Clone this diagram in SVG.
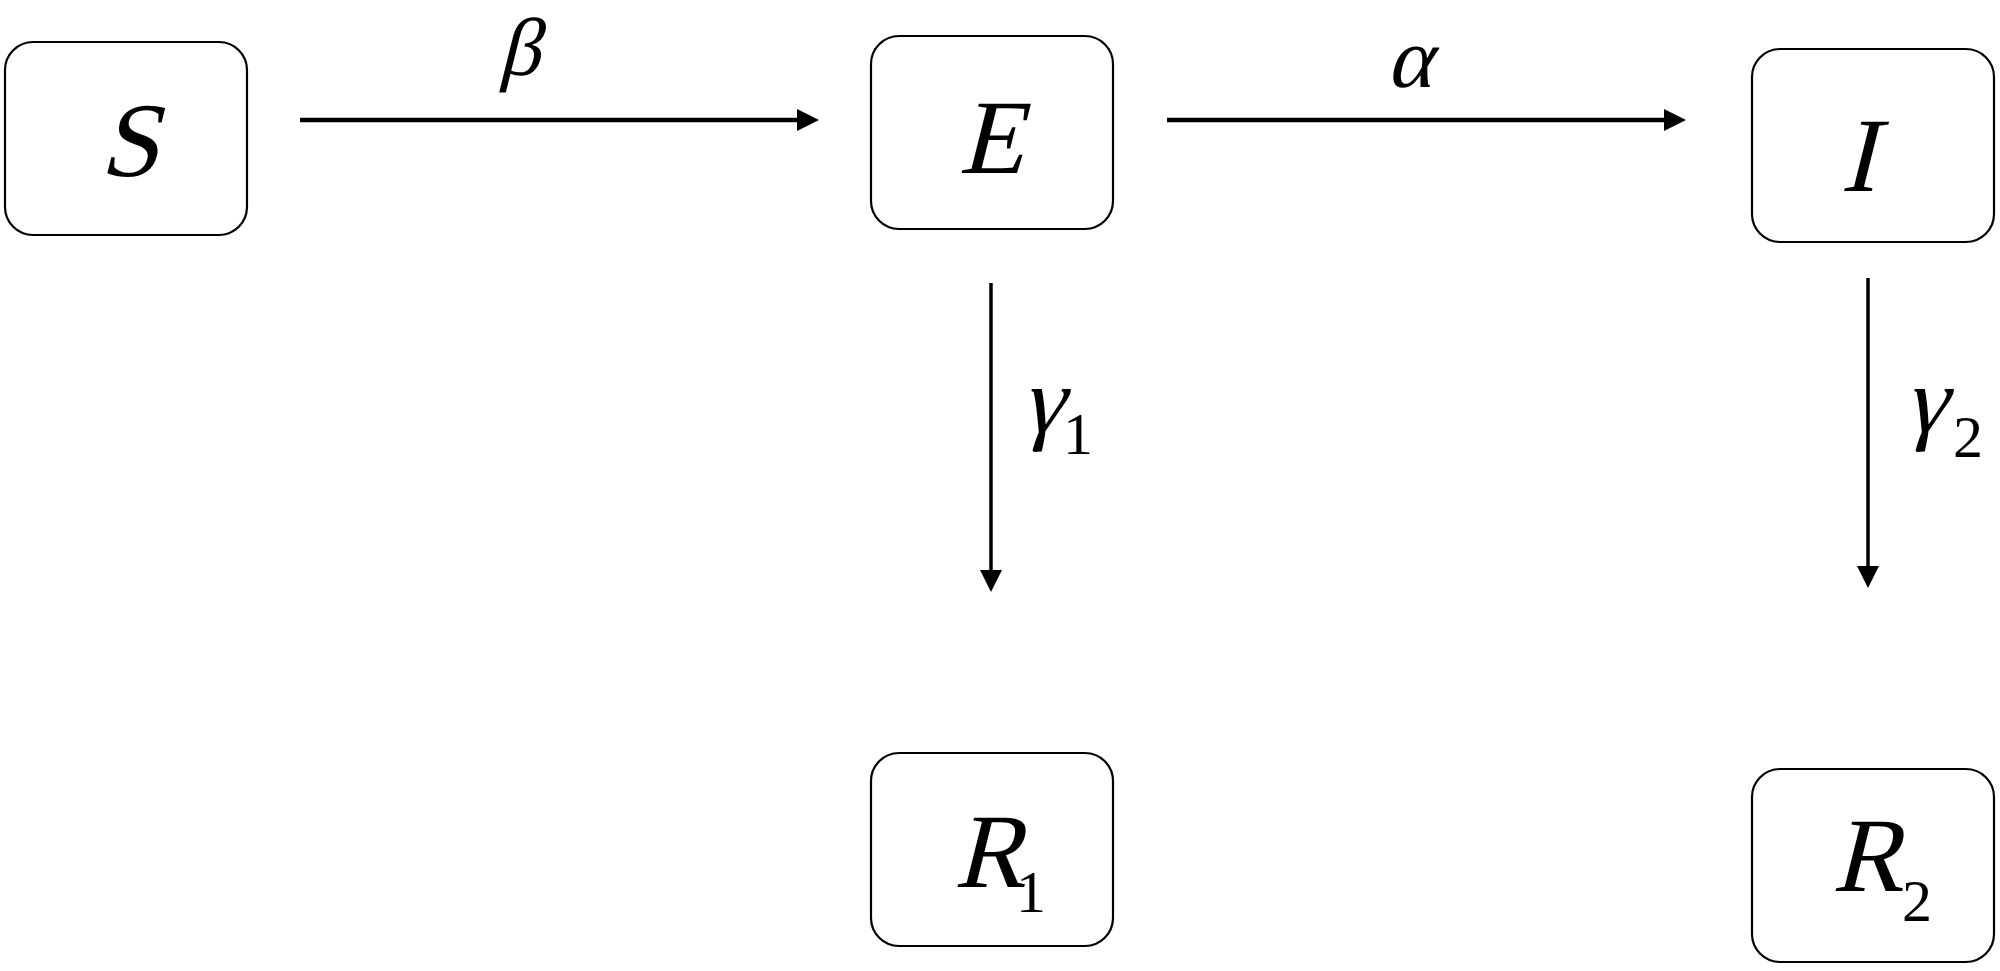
<svg xmlns="http://www.w3.org/2000/svg" width="2000" height="971" viewBox="0 0 2000 971">
<style>
.box{fill:#fff;stroke:#000;stroke-width:2.2}
.lbl{font-family:"Liberation Serif","Times New Roman",serif;font-style:normal;fill:#000;text-anchor:middle}
.big{font-size:106px}
.sub{font-family:"Liberation Serif","Times New Roman",serif;font-style:normal;fill:#000;font-size:60px}
.h{stroke:#000;stroke-width:4.5;fill:none}
.v{stroke:#000;stroke-width:3.5;fill:none}
</style>
<defs>
<marker id="ah" markerUnits="userSpaceOnUse" markerWidth="22" markerHeight="22" refX="0" refY="11" orient="auto" viewBox="0 0 22 22">
<path d="M0,0 L22,11 L0,22 z" fill="#000"/>
</marker>
</defs>
<rect width="2000" height="971" fill="#fff"/>
<g id="connectors">
<line class="h" x1="300" y1="120" x2="797" y2="120" marker-end="url(#ah)"/>
<line class="h" x1="1167" y1="120" x2="1664" y2="120" marker-end="url(#ah)"/>
<line class="v" x1="991" y1="283" x2="991" y2="570" marker-end="url(#ah)"/>
<line class="v" x1="1868" y1="278" x2="1868" y2="566" marker-end="url(#ah)"/>
<text class="lbl" transform="translate(519,75) skewX(-14)" font-size="82">β</text>
<text class="lbl" transform="translate(1409,87) skewX(-14)" font-size="86">α</text>
<text class="lbl" transform="translate(1042,432) skewX(-14)" font-size="94">γ</text>
<text class="sub" x="1063" y="454">1</text>
<text class="lbl" transform="translate(1925,432) skewX(-14)" font-size="94">γ</text>
<text class="sub" x="1953" y="457">2</text>
</g>
<g id="node-S">
<rect class="box" x="5" y="42" width="242" height="193" rx="28"/>
<text class="lbl big" transform="translate(129,176) skewX(-14)">S</text>
</g>
<g id="node-E">
<rect class="box" x="871" y="36" width="242" height="193" rx="28"/>
<text class="lbl big" transform="translate(991,173) skewX(-14)">E</text>
</g>
<g id="node-I">
<rect class="box" x="1752" y="49" width="242" height="193" rx="28"/>
<text class="lbl big" transform="translate(1858,191) skewX(-14)">I</text>
</g>
<g id="node-R1">
<rect class="box" x="871" y="753" width="242" height="193" rx="28"/>
<text class="lbl big" transform="translate(989,887) skewX(-14)">R</text>
<text class="sub" x="1016" y="912">1</text>
</g>
<g id="node-R2">
<rect class="box" x="1752" y="769" width="242" height="193" rx="28"/>
<text class="lbl big" transform="translate(1867,891) skewX(-14)">R</text>
<text class="sub" x="1902" y="921">2</text>
</g>
</svg>
